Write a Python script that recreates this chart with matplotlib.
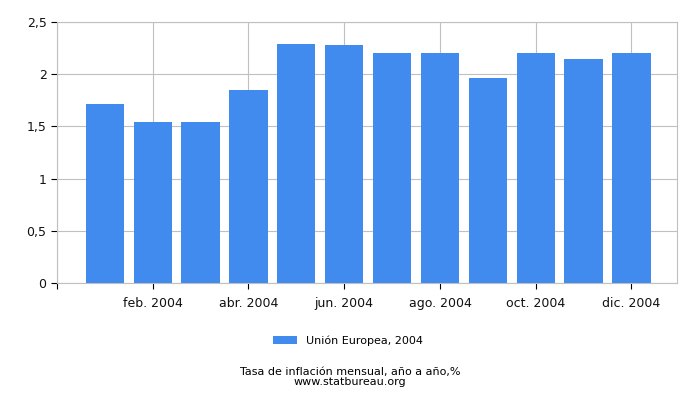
import matplotlib
matplotlib.use("Agg")
import matplotlib.pyplot as plt

months = ["ene. 2004", "feb. 2004", "mar. 2004", "abr. 2004", "may. 2004", "jun. 2004",
          "jul. 2004", "ago. 2004", "sep. 2004", "oct. 2004", "nov. 2004", "dic. 2004"]
values = [1.71, 1.54, 1.54, 1.85, 2.29, 2.28, 2.2, 2.2, 1.96, 2.2, 2.15, 2.2]
y_ticks = [0, 0.5, 1, 1.5, 2, 2.5]
y_labels = ["0", "0,5", "1", "1,5", "2", "2,5"]

BAR_COLOR = "#428bee"
GRID_COLOR = "#c0c0c0"

plt.rcParams["font.family"] = ["DejaVu Sans"]

fig = plt.figure(figsize=(7, 4), dpi=100)
ax = fig.add_axes([0.0814, 0.2925, 0.8856, 0.6525])

x = list(range(len(values)))
ax.bar(x, values, width=0.8, color=BAR_COLOR, label="Unión Europea, 2004", zorder=3)

ax.set_xlim(-1, 11.95)
ax.set_ylim(0, 2.5)

# every second month gets a tick, plus one at the left edge
tick_pos = [-1] + x[1::2]
ax.set_xticks(tick_pos)
ax.set_xticklabels([""] + months[1::2], fontsize=9)
ax.set_yticks(y_ticks)
ax.set_yticklabels(y_labels, fontsize=9)

ax.grid(True, color=GRID_COLOR, linewidth=0.8, zorder=0)
for s in ax.spines.values():
    s.set_color(GRID_COLOR)
ax.tick_params(axis="both", color="black", length=4, width=0.8, labelcolor="#111111")
ax.tick_params(axis="x", pad=6)

fig.legend(loc="center", bbox_to_anchor=(0.497, 0.148), frameon=False,
           fontsize=8, handlelength=2.2, handleheight=0.8)

fig.text(0.5, 0.071, "Tasa de inflación mensual, año a año,%", ha="center", va="center", fontsize=8)
fig.text(0.5, 0.046, "www.statbureau.org", ha="center", va="center", fontsize=8)

fig.savefig("out.png", dpi=100)
